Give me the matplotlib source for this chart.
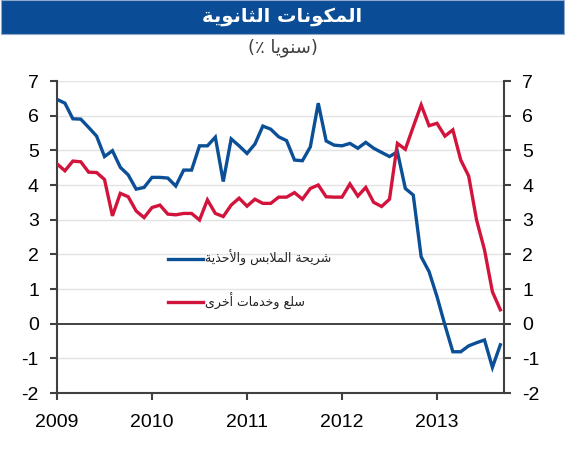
import numpy as np
import matplotlib
matplotlib.use('Agg')
from matplotlib import pyplot
from matplotlib.patches import Rectangle

# monthly, Jan 2009 .. Sep 2013
clothing = [6.47, 6.36, 5.91, 5.90, 5.66, 5.41, 4.82, 4.99, 4.51, 4.29, 3.88, 3.93,
            4.22, 4.22, 4.20, 3.97, 4.43, 4.43, 5.13, 5.13, 5.38, 4.10, 5.33, 5.13,
            4.91, 5.18, 5.70, 5.61, 5.39, 5.28, 4.72, 4.70, 5.10, 6.36, 5.27, 5.15,
            5.13, 5.20, 5.06, 5.23, 5.06, 4.94, 4.82, 4.96, 3.90, 3.71, 1.93, 1.50,
            0.78, -0.04, -0.81, -0.81, -0.64, -0.55, -0.47, -1.26, -0.61]
other = [4.61, 4.41, 4.69, 4.67, 4.37, 4.36, 4.16, 3.11, 3.76, 3.66, 3.25, 3.06,
         3.35, 3.42, 3.16, 3.14, 3.18, 3.18, 2.99, 3.57, 3.18, 3.09, 3.42, 3.62,
         3.39, 3.59, 3.47, 3.47, 3.65, 3.65, 3.78, 3.59, 3.90, 4.00, 3.66, 3.65,
         3.65, 4.03, 3.68, 3.93, 3.50, 3.38, 3.59, 5.20, 5.03, 5.68, 6.31, 5.71,
         5.78, 5.41, 5.59, 4.72, 4.26, 2.99, 2.13, 0.92, 0.40]
years = [2009, 2010, 2011, 2012, 2013]
yticks = list(range(-2, 8))

title = 'المكونات الثانوية'
subtitle = 'سنويا'
label_clothing = 'شريحة الملابس والأحذية'
label_other = 'سلع وخدمات أخرى'

# matplotlib has no arabic shaping, so pick the presentation forms by hand
FORMS = {
    'ا': ('\uFE8D', '\uFE8E', None, None),
    'أ': ('\uFE83', '\uFE84', None, None),
    'ب': ('\uFE8F', '\uFE90', '\uFE91', '\uFE92'),
    'ة': ('\uFE93', '\uFE94', None, None),
    'ت': ('\uFE95', '\uFE96', '\uFE97', '\uFE98'),
    'ث': ('\uFE99', '\uFE9A', '\uFE9B', '\uFE9C'),
    'ح': ('\uFEA1', '\uFEA2', '\uFEA3', '\uFEA4'),
    'خ': ('\uFEA5', '\uFEA6', '\uFEA7', '\uFEA8'),
    'د': ('\uFEA9', '\uFEAA', None, None),
    'ذ': ('\uFEAB', '\uFEAC', None, None),
    'ر': ('\uFEAD', '\uFEAE', None, None),
    'س': ('\uFEB1', '\uFEB2', '\uFEB3', '\uFEB4'),
    'ش': ('\uFEB5', '\uFEB6', '\uFEB7', '\uFEB8'),
    'ع': ('\uFEC9', '\uFECA', '\uFECB', '\uFECC'),
    'ك': ('\uFED9', '\uFEDA', '\uFEDB', '\uFEDC'),
    'ل': ('\uFEDD', '\uFEDE', '\uFEDF', '\uFEE0'),
    'م': ('\uFEE1', '\uFEE2', '\uFEE3', '\uFEE4'),
    'ن': ('\uFEE5', '\uFEE6', '\uFEE7', '\uFEE8'),
    'و': ('\uFEED', '\uFEEE', None, None),
    'ى': ('\uFEEF', '\uFEF0', None, None),
    'ي': ('\uFEF1', '\uFEF2', '\uFEF3', '\uFEF4'),
}
LAM_ALEF = {'ا': ('\uFEFB', '\uFEFC'), 'أ': ('\uFEF7', '\uFEF8')}


def dual(c):
    return c in FORMS and FORMS[c][2] is not None


def arabic(text):
    out = []
    i = 0
    n = len(text)
    while i < n:
        c = text[i]
        if c not in FORMS:
            out.append(c)
            i += 1
            continue
        prev = text[i - 1] if i > 0 else ''
        conn_prev = dual(prev)
        if c == 'ل' and i + 1 < n and text[i + 1] in LAM_ALEF:
            lig = LAM_ALEF[text[i + 1]]
            out.append(lig[1] if conn_prev else lig[0])
            i += 2
            continue
        nxt = text[i + 1] if i + 1 < n else ''
        conn_next = dual(c) and nxt in FORMS
        iso, fin, ini, med = FORMS[c]
        if conn_prev and conn_next:
            out.append(med)
        elif conn_prev:
            out.append(fin)
        elif conn_next:
            out.append(ini)
        else:
            out.append(iso)
        i += 1
    return ''.join(reversed(out))


pyplot.rcParams['font.family'] = ['Liberation Sans', 'DejaVu Sans']

blue = '#0B4F96'
red = '#D2143C'
axis_col = '#404040'

x = 2009 + np.arange(len(clothing)) / 12.0

fig = pyplot.figure(figsize=(5.65, 4.5), dpi=100)
ax = fig.add_axes([57 / 565, 1 - 393 / 450, 447 / 565, 312 / 450])

# title bar
fig.patches.append(Rectangle((0.002, 1 - 34 / 450), 0.996, 34 / 450, transform=fig.transFigure,
                             facecolor='#0A4C95', edgecolor='#8FA8CC', linewidth=0.8))
fig.text(0.5, 1 - 17 / 450, arabic(title), color='white', fontsize=14, fontweight='bold',
         ha='center', va='center', family=['DejaVu Sans'])
fig.text(0.5, 1 - 48 / 450, '(٪ ' + arabic(subtitle) + ')', color='#404040', fontsize=13,
         ha='center', va='center', family=['DejaVu Sans'])

for v in yticks:
    if v != 0:
        ax.axhline(v, color='#E3E3E3', linewidth=1.0, zorder=1)
ax.axhline(0, color='#333333', linewidth=1.3, zorder=2)

ax.plot(x, clothing, color=blue, linewidth=2.4, zorder=3, solid_joinstyle='miter')
ax.plot(x, other, color=red, linewidth=2.4, zorder=3, solid_joinstyle='miter')

# legend, drawn by hand
ax.plot([0.248, 0.327], [0.430, 0.430], color=blue, linewidth=2.4, transform=ax.transAxes)
ax.text(0.331, 0.433, arabic(label_clothing), fontsize=9, color='#222222',
        ha='left', va='center', transform=ax.transAxes, family=['DejaVu Sans'])
ax.plot([0.248, 0.327], [0.292, 0.292], color=red, linewidth=2.4, transform=ax.transAxes)
ax.text(0.331, 0.295, arabic(label_other), fontsize=9, color='#222222',
        ha='left', va='center', transform=ax.transAxes, family=['DejaVu Sans'])

ax.set_xlim(2009, 2009 + 447 / 95.0)
ax.set_ylim(-2, 7)
ax.set_xticks(years)
ax.set_xticklabels([str(y) for y in years])
ax.set_yticks(yticks)
ax.set_yticklabels([str(v) for v in yticks])

ax.spines['top'].set_visible(False)
for s in ['left', 'right', 'bottom']:
    ax.spines[s].set_color(axis_col)
    ax.spines[s].set_linewidth(1.5)
ax.tick_params(axis='y', which='both', left=True, right=True, labelleft=True, labelright=True,
               direction='out', length=5, width=1.5, color=axis_col, labelsize=14, pad=8)
ax.tick_params(axis='x', direction='out', length=5, width=1.5, color=axis_col,
               labelsize=14, pad=10)

fig.savefig('out.png', dpi=100)
